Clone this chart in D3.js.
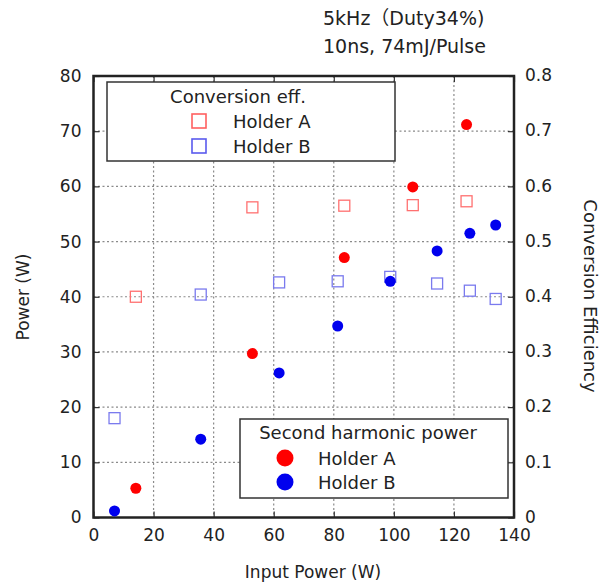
<!DOCTYPE html>
<html>
<head>
<meta charset="utf-8">
<script src="https://cdn.jsdelivr.net/npm/d3@7"></script>
<style>
body { margin: 0; background: #fff; }
.tick text { font-family: "DejaVu Sans", sans-serif; font-size: 17px; fill: #222; }
.lab { font-family: "DejaVu Sans", sans-serif; fill: #222; }
</style>
</head>
<body>
<svg id="svg"></svg>
<script>
var width = 607, height = 582;

// input power (W)
var inA = [14.1, 52.9, 83.5, 106.3, 124.2];
var inB = [7.0, 35.7, 61.8, 81.3, 98.8, 114.4, 125.3, 133.9];
// second harmonic power (W)
var powA = [5.3, 29.7, 47.1, 59.9, 71.2];
var powB = [1.2, 14.2, 26.2, 34.7, 42.8, 48.3, 51.5, 53.0];
// conversion efficiency
var effA = [0.40, 0.562, 0.565, 0.566, 0.573];
var effB = [0.18, 0.404, 0.426, 0.428, 0.436, 0.424, 0.411, 0.396];

var xTicks = [0, 20, 40, 60, 80, 100, 120, 140];
var yTicks = [0, 10, 20, 30, 40, 50, 60, 70, 80];
var y2Ticks = [0, 0.1, 0.2, 0.3, 0.4, 0.5, 0.6, 0.7, 0.8];

var svg = d3.select("#svg")
	.attr("width", width)
	.attr("height", height);

var pLeft = 93.5, pRight = 514, pTop = 76, pBottom = 517.5;

var x = d3.scaleLinear().domain([0, 140]).range([pLeft, pRight]);
var y = d3.scaleLinear().domain([0, 80]).range([pBottom, pTop]);
var y2 = d3.scaleLinear().domain([0, 0.8]).range([pBottom, pTop]);

// grid
svg.append("g").selectAll("line")
	.data(xTicks.slice(1, -1))
	.enter().append("line")
	.attr("x1", function(d) { return x(d); })
	.attr("x2", function(d) { return x(d); })
	.attr("y1", pTop).attr("y2", pBottom)
	.style("stroke", "#8a8a8a").style("stroke-width", 1.2)
	.style("stroke-dasharray", "2,2.5");
svg.append("g").selectAll("line")
	.data(yTicks.slice(1, -1))
	.enter().append("line")
	.attr("y1", function(d) { return y(d); })
	.attr("y2", function(d) { return y(d); })
	.attr("x1", pLeft).attr("x2", pRight)
	.style("stroke", "#8a8a8a").style("stroke-width", 1.2)
	.style("stroke-dasharray", "2,2.5");

// axes
function styleAxis(g) {
	g.select(".domain").remove();
	g.selectAll(".tick line").style("stroke", "#333").style("stroke-width", 1.2);
}
svg.append("g")
	.attr("transform", "translate(0," + pBottom + ")")
	.call(d3.axisBottom(x).tickValues(xTicks).tickSize(-6).tickPadding(11))
	.call(styleAxis);
svg.append("g")
	.attr("transform", "translate(0," + pTop + ")")
	.call(d3.axisTop(x).tickValues(xTicks).tickSize(-6).tickFormat(""))
	.call(styleAxis);
svg.append("g")
	.attr("transform", "translate(" + pLeft + ",0)")
	.call(d3.axisLeft(y).tickValues(yTicks).tickSize(-6).tickPadding(12))
	.call(styleAxis);
svg.append("g")
	.attr("transform", "translate(" + pRight + ",0)")
	.call(d3.axisRight(y2).tickValues(y2Ticks).tickSize(-6).tickPadding(11)
		.tickFormat(function(d) { return d === 0 ? "0" : d3.format(".1f")(d); }))
	.call(styleAxis)
	.selectAll(".tick text").attr("dy", "0.28em");

// frame
svg.append("rect")
	.attr("x", pLeft).attr("y", pTop)
	.attr("width", pRight - pLeft).attr("height", pBottom - pTop)
	.style("fill", "none").style("stroke", "#222").style("stroke-width", 2.5);

// legend boxes
svg.append("rect")
	.attr("x", 107).attr("y", 82).attr("width", 288).attr("height", 79)
	.style("fill", "#fff").style("stroke", "#333").style("stroke-width", 1.5);
svg.append("rect")
	.attr("x", 240).attr("y", 419).attr("width", 268).attr("height", 79)
	.style("fill", "#fff").style("stroke", "#333").style("stroke-width", 1.5);

// efficiency squares
function squares(xs, vs, color) {
	svg.append("g").selectAll("rect")
		.data(xs)
		.enter().append("rect")
		.attr("x", function(d) { return x(d) - 5.5; })
		.attr("y", function(d, i) { return y2(vs[i]) - 5.5; })
		.attr("width", 11).attr("height", 11)
		.style("fill", "none").style("stroke", color).style("stroke-width", 1.3);
}
squares(inA, effA, "#ff7070");
squares(inB, effB, "#7a7aee");

// power dots
function dots(xs, vs, color) {
	svg.append("g").selectAll("circle")
		.data(xs)
		.enter().append("circle")
		.attr("cx", function(d) { return x(d); })
		.attr("cy", function(d, i) { return y(vs[i]); })
		.attr("r", 5.5)
		.style("fill", color);
}
dots(inA, powA, "#ff0000");
dots(inB, powB, "#0000ee");

// legend contents
svg.append("text").attr("class", "lab")
	.attr("x", 238).attr("y", 103).attr("text-anchor", "middle")
	.style("font-size", "18px").text("Conversion eff.");
svg.append("rect").attr("x", 192).attr("y", 114).attr("width", 14).attr("height", 14)
	.style("fill", "none").style("stroke", "#ff6060").style("stroke-width", 1.6);
svg.append("rect").attr("x", 192).attr("y", 139).attr("width", 14).attr("height", 14)
	.style("fill", "none").style("stroke", "#5a5aee").style("stroke-width", 1.6);
svg.append("text").attr("class", "lab").attr("x", 233).attr("y", 128)
	.style("font-size", "18px").text("Holder A");
svg.append("text").attr("class", "lab").attr("x", 233).attr("y", 153)
	.style("font-size", "18px").text("Holder B");

svg.append("text").attr("class", "lab")
	.attr("x", 368).attr("y", 439).attr("text-anchor", "middle")
	.style("font-size", "18px").text("Second harmonic power");
svg.append("circle").attr("cx", 285).attr("cy", 458).attr("r", 8.5).style("fill", "#ff0000");
svg.append("circle").attr("cx", 285).attr("cy", 482).attr("r", 8.5).style("fill", "#0000ee");
svg.append("text").attr("class", "lab").attr("x", 318).attr("y", 465)
	.style("font-size", "18px").text("Holder A");
svg.append("text").attr("class", "lab").attr("x", 318).attr("y", 489)
	.style("font-size", "18px").text("Holder B");

// axis titles
svg.append("text").attr("class", "lab")
	.attr("x", 313).attr("y", 578).attr("text-anchor", "middle")
	.style("font-size", "17px").text("Input Power (W)");
svg.append("text").attr("class", "lab")
	.attr("transform", "translate(29,297) rotate(-90)")
	.attr("text-anchor", "middle")
	.style("font-size", "17px").text("Power (W)");
svg.append("text").attr("class", "lab")
	.attr("transform", "translate(584,296) rotate(90)")
	.attr("text-anchor", "middle")
	.style("font-size", "18px").text("Conversion Efficiency");

// header
svg.append("text").attr("class", "lab")
	.attr("x", 323).attr("y", 25)
	.style("font-family", "'DejaVu Sans', 'Noto Sans CJK JP', sans-serif")
	.style("font-size", "19px").text("5kHz（Duty34%)");
svg.append("text").attr("class", "lab")
	.attr("x", 323).attr("y", 53)
	.style("font-family", "'DejaVu Sans', 'Noto Sans CJK JP', sans-serif")
	.style("font-size", "19px").text("10ns, 74mJ/Pulse");
</script>
</body>
</html>
